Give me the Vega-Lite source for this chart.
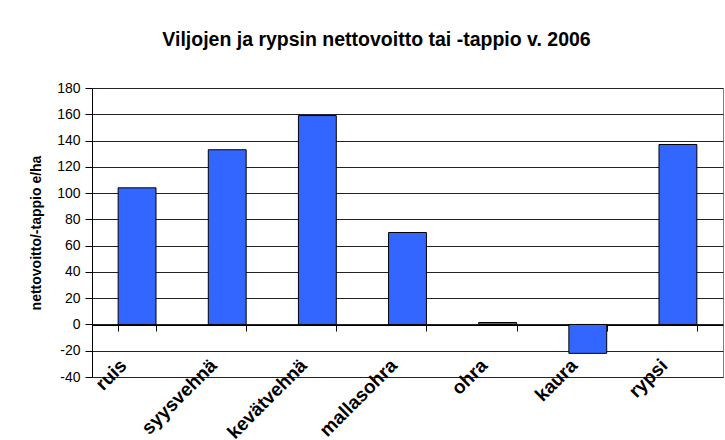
{
  "$schema": "https://vega.github.io/schema/vega-lite/v6.json",
  "autosize": "none",
  "width": 631,
  "height": 289,
  "padding": {"left": 92, "top": 88, "right": 2, "bottom": 63},
  "background": "white",
  "title": {
    "text": "Viljojen ja rypsin nettovoitto tai -tappio v. 2006",
    "font": "Liberation Sans",
    "fontSize": 19.5,
    "fontWeight": "bold",
    "color": "black",
    "anchor": "middle",
    "dx": -31,
    "offset": 31
  },
  "data": {
    "values": [
      {"kasvi": "ruis", "arvo": 104},
      {"kasvi": "syysvehnä", "arvo": 133},
      {"kasvi": "kevätvehnä", "arvo": 159},
      {"kasvi": "mallasohra", "arvo": 70},
      {"kasvi": "ohra", "arvo": 1.5},
      {"kasvi": "kaura", "arvo": -22},
      {"kasvi": "rypsi", "arvo": 137}
    ]
  },
  "mark": {"type": "bar", "color": "#3366FF", "stroke": "black", "strokeWidth": 1},
  "encoding": {
    "x": {
      "field": "kasvi",
      "type": "nominal",
      "sort": null,
      "scale": {"paddingInner": 0.58, "paddingOuter": 0.29},
      "axis": {
        "title": null,
        "offset": -52,
        "domainColor": "black",
        "ticks": true,
        "tickBand": "extent",
        "tickColor": "black",
        "tickWidth": 1,
        "tickSize": 6,
        "labelAngle": -45,
        "labelAlign": "right",
        "labelBaseline": "middle",
        "labelPadding": 31,
        "labelOffset": -14,
        "labelFont": "Liberation Sans",
        "labelFontSize": 19,
        "labelFontWeight": "bold",
        "labelColor": "black",
        "labelOverlap": false
      }
    },
    "y": {
      "field": "arvo",
      "type": "quantitative",
      "scale": {"domain": [-40, 180], "nice": false},
      "axis": {
        "title": "nettovoitto/-tappio e/ha",
        "titleFont": "Liberation Sans",
        "titleFontSize": 14,
        "titleFontWeight": "bold",
        "titleColor": "black",
        "titlePadding": 13,
        "values": [-40, -20, 0, 20, 40, 60, 80, 100, 120, 140, 160, 180],
        "labelExpr": "replace(datum.label, '\u2212', '-')",
        "labelFont": "Liberation Sans",
        "labelFontSize": 14,
        "labelColor": "black",
        "labelPadding": 5,
        "tickColor": "black",
        "tickSize": 7,
        "domainColor": "black",
        "grid": true,
        "gridColor": "#222222",
        "gridWidth": 1
      }
    }
  },
  "config": {
    "view": {"stroke": "#808080", "strokeWidth": 1}
  }
}
